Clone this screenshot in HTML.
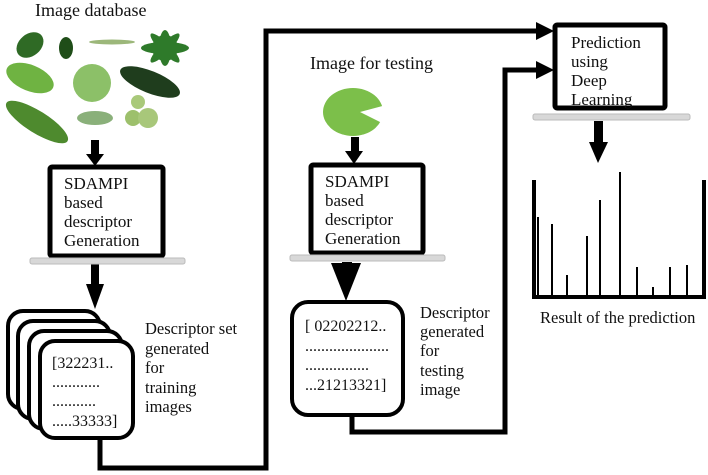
<!DOCTYPE html>
<html><head><meta charset="utf-8"><style>
html,body{margin:0;padding:0;background:#fff;}
svg{display:block;}
text{font-family:"Liberation Serif",serif;fill:#111;}
</style></head><body>
<svg width="708" height="475" viewBox="0 0 708 475" xmlns="http://www.w3.org/2000/svg">
<text x="35" y="16" font-size="18">Image database</text>
<text x="310" y="69" font-size="18">Image for testing</text>

<ellipse cx="30" cy="45" rx="15" ry="11" fill="#2f6a25" transform="rotate(-40 30 45)"/>
<ellipse cx="66" cy="48" rx="7" ry="11" fill="#1f4d18"/>
<ellipse cx="112" cy="42" rx="23" ry="2.5" fill="#9cb77a"/>
<g fill="#2e7a2a"><circle cx="165" cy="48" r="13"/><ellipse cx="165" cy="48" rx="24" ry="6"/><ellipse cx="165" cy="48" rx="6" ry="18"/><ellipse cx="165" cy="48" rx="20" ry="5" transform="rotate(45 165 48)"/><ellipse cx="165" cy="48" rx="20" ry="5" transform="rotate(-45 165 48)"/></g>
<ellipse cx="30" cy="78" rx="25" ry="13" fill="#6fb342" transform="rotate(22 30 78)"/>
<ellipse cx="92" cy="83" rx="19" ry="19" fill="#8cc068"/>
<ellipse cx="150" cy="82" rx="32" ry="11" fill="#1f3d1d" transform="rotate(22 150 82)"/>
<ellipse cx="37" cy="122" rx="36" ry="11" fill="#4e8a2e" transform="rotate(32 37 122)"/>
<ellipse cx="95" cy="118" rx="18" ry="7" fill="#8ab07a"/>
<circle cx="138" cy="102" r="7" fill="#a9c97a"/><circle cx="133" cy="118" r="8" fill="#9dc06c"/><circle cx="148" cy="118" r="10" fill="#a8c77a"/>
<ellipse cx="353" cy="112" rx="30" ry="24" fill="#7cbf4a"/>
<polygon points="360,112 390,104 388,126" fill="#fff"/>

<g fill="#000">
<rect x="91" y="140" width="8" height="16"/><polygon points="86,154 104,154 95,166"/>
<rect x="91" y="264" width="8" height="22"/><polygon points="86,284 104,284 95,309"/>
<rect x="351" y="137" width="8" height="16"/><polygon points="345,151 363,151 354,164"/>
<rect x="342" y="262" width="10" height="6"/><polygon points="331,263 361,263 346,301"/>
<rect x="594" y="121" width="9" height="24"/><polygon points="589,142 608,142 598,163"/>
</g>

<g fill="#fff" stroke="#000" stroke-width="5">
<rect x="50" y="167" width="113" height="89" rx="2"/>
<rect x="311" y="165" width="112" height="88" rx="2"/>
<rect x="555" y="25" width="110" height="83" rx="2"/>
</g>
<g fill="#d8d8d8" stroke="#bbb" stroke-width="1">
<rect x="30" y="258" width="155" height="6" rx="2"/>
<rect x="290" y="255" width="155" height="6" rx="2"/>
<rect x="533" y="114" width="157" height="6" rx="2"/>
</g>
<g font-size="17">
<text x="64" y="189">SDAMPI</text><text x="64" y="208">based</text><text x="64" y="227">descriptor</text><text x="64" y="246">Generation</text>
<text x="325" y="187">SDAMPI</text><text x="325" y="206">based</text><text x="325" y="225">descriptor</text><text x="325" y="244">Generation</text>
<text x="571" y="48">Prediction</text><text x="571" y="67">using</text><text x="571" y="86">Deep</text><text x="571" y="105">Learning</text>
</g>

<g fill="#fff" stroke="#000" stroke-width="4">
<rect x="8" y="311" width="92" height="98" rx="15"/>
<rect x="18" y="321" width="92" height="98" rx="15"/>
<rect x="29" y="331" width="93" height="98" rx="15"/>
<rect x="40" y="341" width="93" height="97" rx="15"/>
<rect x="292" y="302" width="111" height="113" rx="16"/>
</g>
<g font-size="16">
<text x="52" y="368">[322231..</text><text x="52" y="387">............</text><text x="52" y="406">...........</text><text x="52" y="426">.....33333]</text>
<text x="305" y="331">[ 02202212..</text><text x="305" y="351">.....................</text><text x="305" y="370">................</text><text x="305" y="390">...21213321]</text>
</g>
<g font-size="16.5">
<text x="145" y="334">Descriptor set</text><text x="145" y="354">generated</text><text x="145" y="373">for</text><text x="145" y="393">training</text><text x="145" y="412">images</text>
<text x="420" y="318">Descriptor</text><text x="420" y="337">generated</text><text x="420" y="356">for</text><text x="420" y="376">testing</text><text x="420" y="395">image</text>
<text x="540" y="323">Result of the prediction</text>
</g>

<g fill="none" stroke="#000" stroke-width="5" stroke-linejoin="miter">
<polyline points="100,438 100,468 266,468 266,31 540,31"/>
<polyline points="352,415 352,432 505,432 505,70 540,70"/>
</g>
<g fill="#000">
<polygon points="536,22 554,31 536,40"/>
<polygon points="536,61 554,70 536,79"/>
</g>

<g stroke="#000" fill="none">
<polyline points="534,180 534,297 704,297 704,180" stroke-width="4"/>
<g stroke-width="2">
<line x1="538" y1="217" x2="538" y2="297"/><line x1="552" y1="224" x2="552" y2="297"/>
<line x1="567" y1="275" x2="567" y2="297"/><line x1="587" y1="236" x2="587" y2="297"/>
<line x1="600" y1="200" x2="600" y2="297"/><line x1="620" y1="172" x2="620" y2="297"/>
<line x1="637" y1="267" x2="637" y2="297"/><line x1="653" y1="287" x2="653" y2="297"/>
<line x1="670" y1="267" x2="670" y2="297"/><line x1="687" y1="265" x2="687" y2="297"/>
</g></g>
</svg>
</body></html>
